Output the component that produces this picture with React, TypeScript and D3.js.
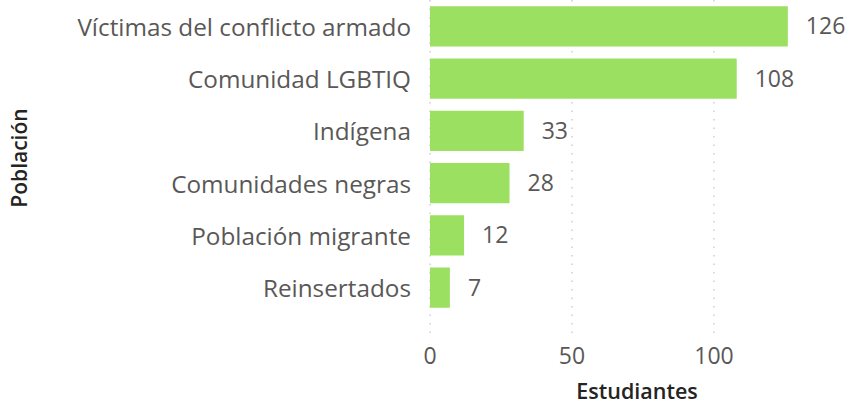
import React from "react";
import * as d3 from "d3";

const categories = [
  "Víctimas del conflicto armado",
  "Comunidad LGBTIQ",
  "Indígena",
  "Comunidades negras",
  "Población migrante",
  "Reinsertados",
];
const values = [126, 108, 33, 28, 12, 7];
const xTicks = [0, 50, 100];
const xTitle = "Estudiantes";
const yTitle = "Población";

const W = 845;
const H = 405;
const FONT = "'Open Sans', 'Noto Sans', sans-serif";

export default function App() {
  const x = d3.scaleLinear().domain([0, 100]).range([430, 714]);
  const y = d3
    .scaleBand<string>()
    .domain(categories)
    .range([0, 314])
    .paddingInner(0.23)
    .paddingOuter(0.12);

  return (
    <svg
      width={W}
      height={H}
      style={{ position: "absolute", left: 0, top: 0, background: "#fff" }}
    >
      {xTicks.map((t) => (
        <line
          key={"g" + t}
          x1={x(t)}
          x2={x(t)}
          y1={0}
          y2={334}
          stroke="#c8c8c8"
          strokeWidth={1.3}
          strokeDasharray="1.5,7"
        />
      ))}
      {categories.map((c, i) => (
        <g key={c}>
          <rect
            x={x(0)}
            y={y(c)}
            width={x(values[i]) - x(0)}
            height={y.bandwidth()}
            fill="#9be060"
          />
          <text
            x={x(0) - 19}
            y={(y(c) as number) + y.bandwidth() / 2 + 1}
            dy="0.35em"
            textAnchor="end"
            fontFamily={FONT}
            fontSize={24.3}
            fill="#5a5857"
          >
            {c}
          </text>
          <text
            x={x(values[i]) + 18}
            y={(y(c) as number) + y.bandwidth() / 2}
            dy="0.35em"
            textAnchor="start"
            fontFamily={FONT}
            fontSize={23}
            fill="#5a5857"
          >
            {values[i]}
          </text>
        </g>
      ))}
      {xTicks.map((t) => (
        <text
          key={"t" + t}
          x={x(t)}
          y={356}
          dy="0.35em"
          textAnchor="middle"
          fontFamily={FONT}
          fontSize={23}
          fill="#5a5857"
        >
          {t}
        </text>
      ))}
      <text
        x={637}
        y={391}
        dy="0.35em"
        textAnchor="middle"
        fontFamily={FONT}
        fontSize={21.5}
        fontWeight={600}
        fill="#252423"
      >
        {xTitle}
      </text>
      <text
        transform={`translate(20,${158}) rotate(-90)`}
        dy="0.35em"
        textAnchor="middle"
        fontFamily={FONT}
        fontSize={21}
        fontWeight={600}
        fill="#252423"
      >
        {yTitle}
      </text>
    </svg>
  );
}
